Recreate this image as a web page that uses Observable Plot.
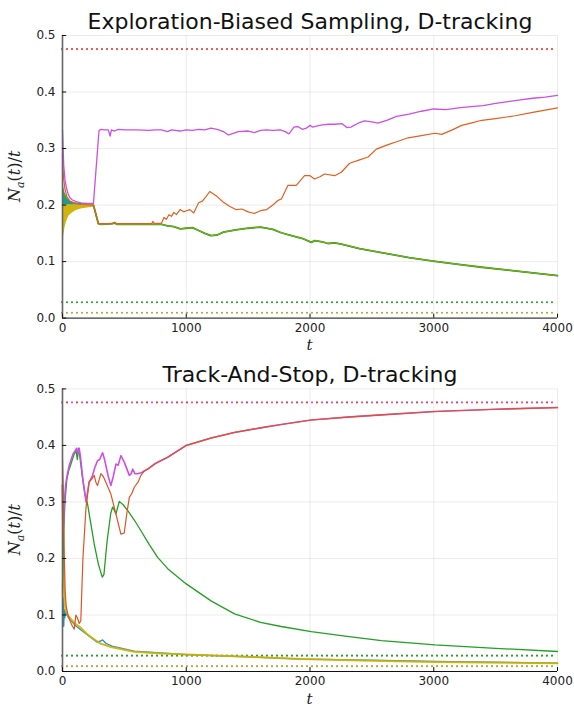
<!DOCTYPE html>
<html>
<head>
<meta charset="utf-8">
<script src="https://cdn.jsdelivr.net/npm/d3@7"></script>
<script src="https://cdn.jsdelivr.net/npm/@observablehq/plot@0.6"></script>
<style>
  html, body { margin: 0; padding: 0; background: #fff; }
  #chart svg { display: block; overflow: visible; }
</style>
</head>
<body>
<div id="chart"></div>
<script>
// ---------- shared ticks / labels ----------
const xTicks = [0, 1000, 2000, 3000, 4000];
const yTicks = [0, 0.1, 0.2, 0.3, 0.4, 0.5];
const titles = ["Exploration-Biased Sampling, D-tracking", "Track-And-Stop, D-tracking"];
const colors = {magenta: "#cc4fe6", orange: "#e0611f", green: "#239f23", yellow: "#cdb000", blue: "#1f8fc4", teal: "#0f9e9a"};

// optimal proportions (dotted reference lines)
const optimalValues = [0.476, 0.028, 0.0095];

// ---------- top panel : Exploration-Biased Sampling ----------
const magentaTop = [[0,0.333],[5,0.30],[10,0.27],[20,0.245],[30,0.232],[45,0.22],[60,0.213],[80,0.209],[110,0.206],[150,0.204],[200,0.203],[250,0.203],
 [295,0.332],[310,0.334],[340,0.333],[370,0.333],[385,0.322],[395,0.333],[420,0.331],[450,0.334],[500,0.333],[600,0.333],[700,0.332],[750,0.333],[800,0.333],
 [850,0.330],[880,0.333],[950,0.331],[1000,0.333],[1050,0.332],[1100,0.334],[1150,0.333],[1200,0.336],[1250,0.334],[1300,0.330],[1340,0.324],[1380,0.327],
 [1420,0.330],[1500,0.331],[1550,0.328],[1600,0.332],[1650,0.333],[1700,0.332],[1760,0.333],[1800,0.330],[1830,0.326],[1870,0.338],[1900,0.339],[1940,0.334],
 [1970,0.336],[2000,0.341],[2020,0.338],[2060,0.340],[2100,0.342],[2150,0.343],[2200,0.343],[2260,0.344],[2300,0.337],[2330,0.338],[2400,0.346],[2440,0.349],
 [2500,0.347],[2550,0.345],[2620,0.350],[2700,0.357],[2800,0.361],[2900,0.366],[3000,0.370],[3100,0.369],[3200,0.372],[3300,0.374],[3400,0.376],[3500,0.380],
 [3600,0.383],[3700,0.386],[3800,0.389],[3900,0.391],[4000,0.394]];

const orangeTop = [[0,0.29],[5,0.26],[10,0.245],[20,0.228],[35,0.215],[60,0.207],[100,0.203],[150,0.201],[250,0.200],[290,0.167],[500,0.167],[720,0.167],[730,0.171],[745,0.167],
 [800,0.168],[820,0.178],[840,0.175],[860,0.183],[880,0.180],[900,0.187],[920,0.183],[950,0.192],[980,0.188],[1000,0.190],[1030,0.192],[1060,0.186],
 [1100,0.204],[1130,0.207],[1160,0.215],[1190,0.224],[1250,0.215],[1300,0.205],[1350,0.198],[1400,0.192],[1450,0.193],[1500,0.188],[1550,0.185],[1600,0.190],
 [1650,0.192],[1700,0.200],[1740,0.208],[1770,0.211],[1800,0.225],[1822,0.235],[1889,0.235],[1956,0.252],[2000,0.252],[2037,0.246],[2080,0.250],[2118,0.255],
 [2199,0.252],[2253,0.258],[2320,0.274],[2401,0.280],[2469,0.285],[2536,0.299],[2631,0.307],[2700,0.312],[2793,0.319],[2900,0.323],[3010,0.327],[3064,0.325],
 [3150,0.333],[3226,0.341],[3300,0.345],[3388,0.350],[3500,0.353],[3658,0.358],[3800,0.364],[3900,0.368],[4000,0.372]];

const groupTop = [[250,0.200],[290,0.167],[310,0.166],[400,0.167],[420,0.169],[440,0.166],[600,0.166],[800,0.166],[850,0.163],[900,0.162],[950,0.158],[1000,0.159],
 [1050,0.160],[1100,0.155],[1150,0.150],[1200,0.146],[1250,0.147],[1300,0.152],[1400,0.156],[1500,0.159],[1600,0.161],[1700,0.157],[1767,0.151],[1850,0.146],
 [1950,0.140],[2010,0.134],[2037,0.137],[2100,0.135],[2145,0.132],[2200,0.133],[2253,0.131],[2400,0.123],[2577,0.116],[2800,0.107],[3010,0.1005],[3200,0.095],
 [3388,0.090],[3600,0.085],[3800,0.080],[4000,0.075]];

// early oscillation bands (envelopes)
const greenBandTop  = [[0,0.252],[10,0.232],[20,0.222],[40,0.212],[70,0.206],[120,0.203],[250,0.201]];
const tealBandTop   = [[0,0.232],[10,0.220],[20,0.213],[40,0.207],[70,0.204],[250,0.201]];
const yellowBandTop = [[0,0.108],[3,0.11],[6,0.125],[10,0.145],[21,0.161],[35,0.172],[53,0.181],[80,0.186],[107,0.190],[150,0.193],[200,0.195],[250,0.196]];

// ---------- bottom panel : Track-And-Stop ----------
const magentaBot = [[0,0.33],[3,0.25],[8,0.26],[15,0.30],[25,0.33],[40,0.35],[55,0.365],[70,0.375],[85,0.385],[100,0.39],[115,0.395],[125,0.385],[135,0.395],
 [145,0.38],[165,0.34],[190,0.30],[215,0.335],[240,0.345],[260,0.36],[283,0.373],[300,0.375],[324,0.387],[340,0.375],[370,0.345],[391,0.329],[410,0.345],
 [432,0.367],[450,0.365],[472,0.382],[500,0.37],[540,0.347],[555,0.35],[567,0.358],[585,0.35],[607,0.350],[640,0.352],[688,0.358],[750,0.368],[850,0.379],
 [1000,0.400],[1200,0.413],[1390,0.423],[1600,0.431],[1767,0.437],[2010,0.445],[2300,0.450],[2577,0.454],[3010,0.460],[3500,0.464],[4000,0.467]];

const orangeBot = [[0,0.375],[5,0.33],[10,0.26],[15,0.20],[22,0.14],[30,0.115],[45,0.10],[60,0.09],[80,0.08],[95,0.075],[108,0.10],[120,0.095],[135,0.085],
 [148,0.09],[165,0.20],[190,0.29],[215,0.335],[235,0.34],[256,0.347],[270,0.335],[283,0.329],[310,0.350],[330,0.345],[360,0.33],[391,0.314],[430,0.28],
 [472,0.243],[499,0.245],[520,0.28],[540,0.308],[560,0.315],[580,0.326],[610,0.335],[634,0.347],[660,0.355],[688,0.358],[750,0.368],[850,0.379],
 [1000,0.400],[1200,0.413],[1390,0.423],[1600,0.431],[1767,0.437],[2010,0.445],[2300,0.450],[2577,0.454],[3010,0.460],[3500,0.464],[4000,0.467]];

const greenBot = [[0,0.15],[5,0.20],[10,0.25],[20,0.30],[35,0.34],[50,0.355],[65,0.365],[80,0.375],[95,0.385],[110,0.39],[120,0.375],[130,0.395],[140,0.38],
 [160,0.345],[180,0.315],[202,0.297],[230,0.26],[256,0.226],[290,0.19],[321,0.167],[335,0.172],[360,0.23],[390,0.28],[405,0.291],[432,0.279],[459,0.301],
 [490,0.295],[526,0.285],[580,0.268],[634,0.249],[700,0.225],[769,0.202],[850,0.182],[1000,0.155],[1200,0.125],[1390,0.102],[1600,0.087],[1767,0.0796],
 [2010,0.0707],[2300,0.062],[2577,0.0548],[3010,0.047],[3500,0.041],[4000,0.0354]];

const blueBot = [[0,0.15],[3,0.10],[6,0.13],[10,0.08],[14,0.11],[18,0.095],[25,0.105],[35,0.10],[50,0.095],[100,0.082],[200,0.065],[280,0.052],[310,0.054],
 [324,0.056],[350,0.05],[400,0.045],[580,0.036],[1000,0.030],[1500,0.026],[1930,0.022],[2500,0.020],[3010,0.018],[4000,0.0147]];

const yellowBot = [[0,0.33],[4,0.28],[8,0.20],[12,0.15],[18,0.12],[25,0.11],[40,0.10],[60,0.095],[80,0.09],[100,0.085],[134,0.08],[200,0.066],[250,0.058],
 [310,0.049],[400,0.043],[580,0.035],[800,0.032],[1000,0.030],[1500,0.026],[1930,0.022],[2500,0.019],[3010,0.017],[4000,0.0145]];

// ---------- helpers ----------
const X = d => d[0], Y = d => d[1];
function line(data, stroke, w = 1.2, op = 1) {
  return Plot.line(data, {x: X, y: Y, stroke, strokeWidth: w, strokeOpacity: op, curve: "linear"});
}
function dotted(v, stroke, offset = 0, gap = 5) {
  return Plot.ruleY([v], {stroke, strokeWidth: 2.2, strokeDasharray: `0,${gap}`, strokeDashoffset: offset, strokeLinecap: "round"});
}
function frameMarks() {
  return [
    Plot.gridX(xTicks, {stroke: "#000", strokeOpacity: 0.08}),
    Plot.gridY(yTicks, {stroke: "#000", strokeOpacity: 0.08}),
  ];
}
function axisMarks() {
  return [
    Plot.ruleX([0], {stroke: "#666", strokeWidth: 1.6}),
    Plot.ruleY([0], {stroke: "#111", strokeWidth: 1}),
    Plot.ruleY(yTicks, {x1: 0, x2: 34, stroke: "#111", strokeWidth: 1}),
    Plot.ruleX(xTicks, {y1: 0, y2: 0.007, stroke: "#111", strokeWidth: 1}),
    Plot.axisX({ticks: xTicks, tickSize: 0, tickPadding: 5, tickFormat: d3.format("d"), label: null, fontSize: 12, fill: "#222"}),
    Plot.axisY({ticks: yTicks, tickSize: 0, tickPadding: 7, tickFormat: d3.format(".1f"), label: null, fontSize: 12, fill: "#222"}),
  ];
}
function makePlot(title, marks, height, marginTop) {
  const p = Plot.plot({
    width: 574, height, marginLeft: 62, marginRight: 17, marginTop, marginBottom: height - marginTop - 282.6,
    style: {fontFamily: "DejaVu Sans, sans-serif", fontSize: "12px", background: "#fff", color: "#222"},
    x: {domain: [0, 4000]},
    y: {domain: [0, 0.5]},
    marks: [
      ...frameMarks(),
      ...marks,
      ...axisMarks(),
      Plot.text([title], {frameAnchor: "top", lineAnchor: "bottom", dy: -7, fontSize: 22, fill: "#111"})
    ]
  });
  const svg = d3.select(p);
  const cy = marginTop + 282.6 / 2;
  // y label  N_a(t)/t
  const yl = svg.append("text")
    .attr("transform", `translate(20,${cy}) rotate(-90)`)
    .attr("text-anchor", "middle")
    .attr("font-family", "DejaVu Serif, serif")
    .attr("font-size", 16).attr("fill", "#222");
  yl.append("tspan").attr("font-style", "italic").text("N");
  yl.append("tspan").attr("font-style", "italic").attr("font-size", 11).attr("dy", 4).text("a");
  yl.append("tspan").attr("dy", -4).text("(");
  yl.append("tspan").attr("font-style", "italic").text("t");
  yl.append("tspan").text(")/");
  yl.append("tspan").attr("font-style", "italic").text("t");
  // x label t
  svg.append("text")
    .attr("x", 62 + 495 / 2).attr("y", marginTop + 282.6 + 32.5)
    .attr("text-anchor", "middle")
    .attr("font-family", "DejaVu Serif, serif").attr("font-style", "italic")
    .attr("font-size", 15).attr("fill", "#222").text("t");
  return p;
}

// ---------- build ----------
const topMarks = [
  dotted(optimalValues[0], "#e0443a"),
  dotted(optimalValues[1], "#2a9e2a"),
  dotted(optimalValues[2], "#b0a838"),
  Plot.areaY(greenBandTop, {x: X, y1: 0.2, y2: Y, fill: colors.green, fillOpacity: 0.9}),
  Plot.areaY(tealBandTop, {x: X, y1: 0.2, y2: Y, fill: colors.teal, fillOpacity: 0.9}),
  Plot.areaY(yellowBandTop, {x: X, y1: Y, y2: 0.2, fill: colors.yellow, fillOpacity: 0.95}),
  line(groupTop, colors.blue, 1.2),
  line(groupTop, colors.green, 1.8),
  line(groupTop, colors.yellow, 1.0, 0.65),
  line(orangeTop, colors.orange, 1.2),
  line(magentaTop, colors.magenta, 1.3),
];

const botMarks = [
  dotted(optimalValues[0], "#d05ad8", 0, 10),
  dotted(optimalValues[0], "#e0443a", 5, 10),
  dotted(optimalValues[1], "#2a9e2a"),
  dotted(optimalValues[2], "#b0a838"),
  line(blueBot, colors.blue, 1.3),
  line(yellowBot, colors.yellow, 2.0, 0.9),
  line(greenBot, colors.green, 1.3),
  line(magentaBot, colors.magenta, 1.6),
  line(orangeBot, "#dd5522", 1.2),
];

const chart = document.getElementById("chart");
chart.appendChild(makePlot(titles[0], topMarks, 353, 35));
chart.appendChild(makePlot(titles[1], botMarks, 354, 35.4));
</script>
</body>
</html>
